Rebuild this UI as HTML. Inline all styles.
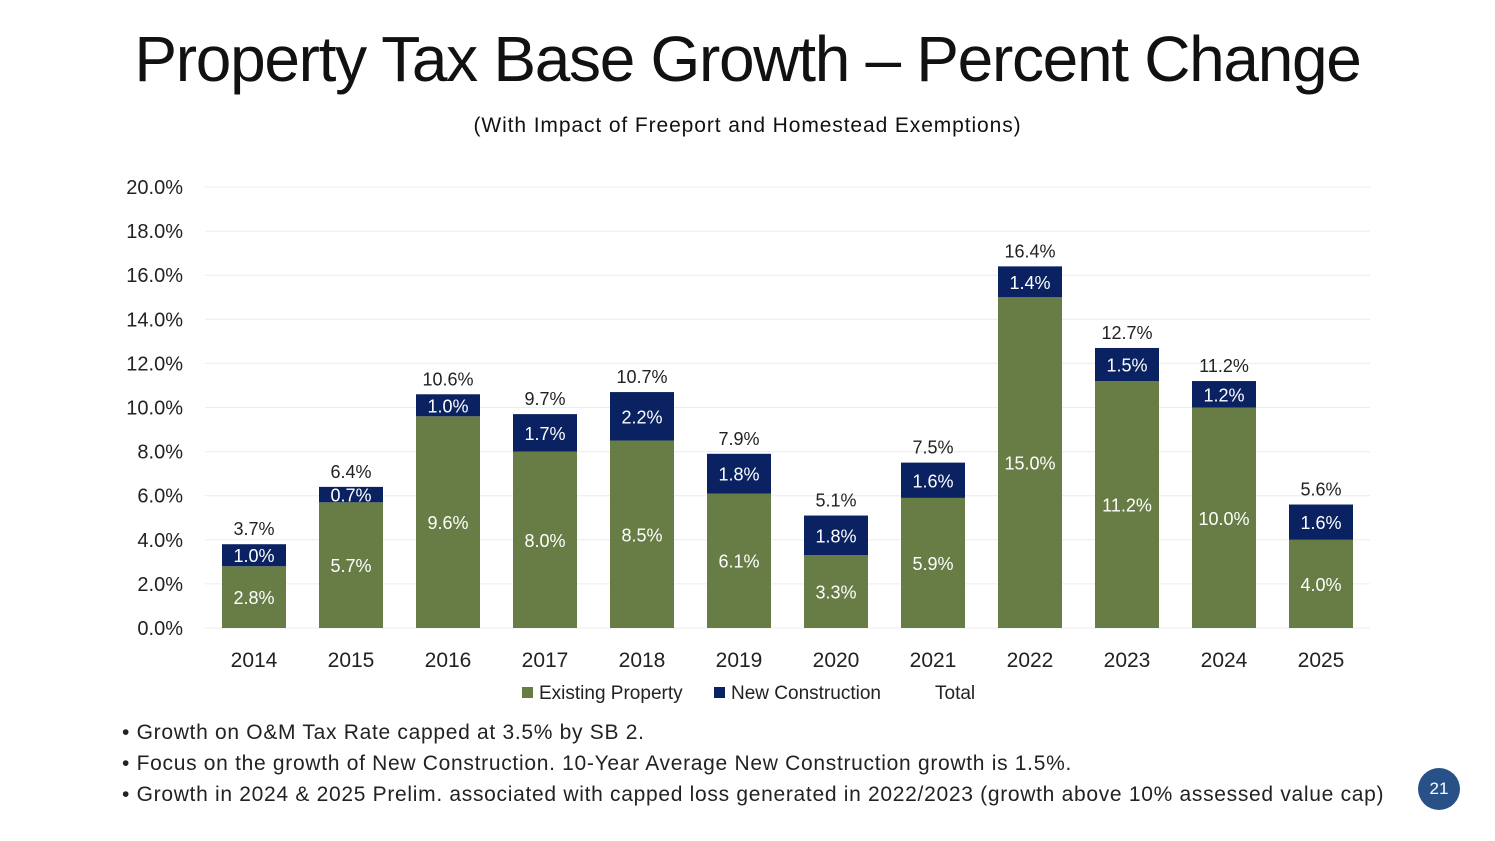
<!DOCTYPE html>
<html><head><meta charset="utf-8"><style>
body{margin:0;width:1495px;height:841px;background:#fff;font-family:"Liberation Sans",sans-serif;overflow:hidden;position:relative}
.t{position:absolute;left:0;width:1495px;text-align:center;color:#111}
.b{position:absolute;left:122px;font-size:21px;color:#222;letter-spacing:0.7px}
</style></head><body>
<div class="t" style="top:22px;font-size:64px;letter-spacing:-1.3px">Property Tax Base Growth – Percent Change</div>
<div class="t" style="top:114px;font-size:21px;letter-spacing:0.9px">(With Impact of Freeport and Homestead Exemptions)</div>
<svg id="c" width="1495" height="720" style="position:absolute;left:0;top:0"></svg>
<div class="b" style="top:721px">• Growth on O&amp;M Tax Rate capped at 3.5% by SB 2.</div>
<div class="b" style="top:752px">• Focus on the growth of New Construction. 10-Year Average New Construction growth is 1.5%.</div>
<div class="b" style="top:783px">• Growth in 2024 &amp; 2025 Prelim. associated with capped loss generated in 2022/2023 (growth above 10% assessed value cap)</div>
<div style="position:absolute;left:1418px;top:768px;width:42px;height:42px;border-radius:50%;background:#285287;color:#fff;font-size:17px;text-align:center;line-height:42px">21</div>
<script>
const years=["2014","2015","2016","2017","2018","2019","2020","2021","2022","2023","2024","2025"];
const existing=[2.8,5.7,9.6,8.0,8.5,6.1,3.3,5.9,15.0,11.2,10.0,4.0];
const newCons=[1.0,0.7,1.0,1.7,2.2,1.8,1.8,1.6,1.4,1.5,1.2,1.6];
const totals=[3.7,6.4,10.6,9.7,10.7,7.9,5.1,7.5,16.4,12.7,11.2,5.6];
const yTicks=[0,2,4,6,8,10,12,14,16,18,20];
const svg=document.getElementById('c'),NS="http://www.w3.org/2000/svg";
const y=v=>628-v*22.05, x=i=>254+i*97;
function mk(t,a,txt){const e=document.createElementNS(NS,t);for(const k in a)e.setAttribute(k,a[k]);if(txt!=null)e.textContent=txt;svg.appendChild(e);return e;}
yTicks.forEach(v=>{
 const l=mk('line',{x1:205,x2:1370,y1:y(v),y2:y(v),stroke:'#ececec'});
 
 
 const t=mk('text',{x:183,y:y(v)+7,'text-anchor':'end','font-size':20,fill:'#222'},v.toFixed(1)+'%');
 
 
});
years.forEach((yr,i)=>{
 const cx=x(i),w=64,e=existing[i],n=newCons[i];
 const r1=mk('rect',{x:cx-w/2,y:y(e),width:w,height:y(0)-y(e),fill:'#687d45'});
 
 
 const r2=mk('rect',{x:cx-w/2,y:y(e+n),width:w,height:y(e)-y(e+n),fill:'#0a2262'});
 
 
 const l1=mk('text',{x:cx,y:(y(e)+y(0))/2+7,'text-anchor':'middle','font-size':18,fill:'#fff'},e.toFixed(1)+'%');
 
 
 const l2=mk('text',{x:cx,y:(y(e)+y(e+n))/2+7,'text-anchor':'middle','font-size':18,fill:'#fff'},n.toFixed(1)+'%');
 
 
 const l3=mk('text',{x:cx,y:y(e+n)-9,'text-anchor':'middle','font-size':18,fill:'#222'},totals[i].toFixed(1)+'%');
 
 
 const xl=mk('text',{x:cx,y:667,'text-anchor':'middle','font-size':21,fill:'#222'},yr);
 
 
});
[[522,'#687d45','Existing Property'],[714,'#0a2262','New Construction'],[935,null,'Total']].forEach(([lx,c,s])=>{
 if(c){const r=mk('rect',{x:lx,y:687,width:11,height:11,fill:c});
 
 }
 const t=mk('text',{x:c?lx+17:lx,y:699,'font-size':19,fill:'#222'},s);
 
 
});
</script>
</body></html>
